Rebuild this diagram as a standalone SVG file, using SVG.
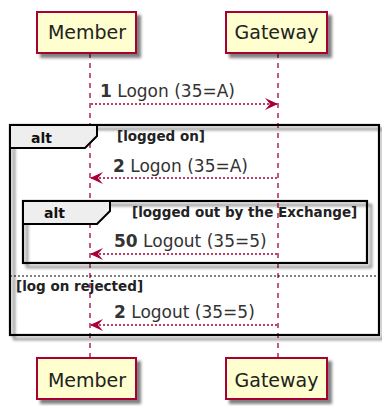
<svg xmlns="http://www.w3.org/2000/svg" width="382" height="406" viewBox="0 0 382 406">
<defs>
<filter id="sh" x="-10%" y="-10%" width="130%" height="140%">
<feGaussianBlur in="SourceAlpha" stdDeviation="1.8"/>
<feOffset dx="4" dy="4" result="b"/>
<feComponentTransfer><feFuncA type="linear" slope="0.5"/></feComponentTransfer>
<feMerge><feMergeNode/><feMergeNode in="SourceGraphic"/></feMerge>
</filter>
<marker id="ah" markerWidth="14" markerHeight="12" viewBox="0 0 14 12" refX="13" refY="6" orient="auto" markerUnits="userSpaceOnUse">
<polygon points="0,0 13,6 0,12 5,6" fill="#A80036"/>
</marker>
</defs>
<style>
.part{fill:#FEFECE;stroke:#A80036;stroke-width:2}
.pt{font-family:"DejaVu Sans",sans-serif;font-size:19px;fill:#222;text-anchor:middle}
.life{stroke:#A80036;stroke-width:1.3;stroke-dasharray:5,5;fill:none}
.msg{stroke:#A80036;stroke-width:1.3;stroke-dasharray:2,2;fill:none;marker-end:url(#ah)}
.mt{font-family:"DejaVu Sans",sans-serif;font-size:17px;fill:#333}
.frame{fill:none;stroke:#000;stroke-width:2.2}
.tab{fill:#EEEEEE;stroke:#000;stroke-width:2}
.ft{font-family:"DejaVu Sans",sans-serif;font-size:14px;font-weight:bold;fill:#111}
.ct{font-family:"DejaVu Sans",sans-serif;font-size:13.5px;font-weight:bold;fill:#222}
</style>
<g id="lifelines">
<line class="life" x1="90" y1="53" x2="90" y2="358"/>
<line class="life" x1="278" y1="53" x2="278" y2="358"/>
</g>
<g id="alt-outer">
<rect class="frame" x="10" y="125" width="369" height="210" filter="url(#sh)"/>
<polygon class="tab" points="10,125 97,125 97,136 85,148 10,148"/>
<text class="ft" x="31" y="143">alt</text>
<text class="ct" x="117" y="141">[logged on]</text>
<line x1="10" y1="276" x2="379" y2="276" stroke="#000" stroke-width="1.2" stroke-dasharray="2,2"/>
<text class="ct" x="16" y="291">[log on rejected]</text>
</g>
<g id="alt-inner">
<rect class="frame" x="23" y="201" width="344" height="62" filter="url(#sh)"/>
<polygon class="tab" points="23,201 110,201 110,211 97,224 23,224"/>
<text class="ft" x="44" y="218">alt</text>
<text class="ct" x="132" y="217">[logged out by the Exchange]</text>
</g>
<g id="connectors">
<line class="msg" x1="91" y1="104" x2="278" y2="104"/>
<text class="mt" x="100" y="97"><tspan font-weight="bold">1</tspan> Logon (35=A)</text>
<line class="msg" x1="277" y1="178" x2="90" y2="178"/>
<text class="mt" x="113" y="172"><tspan font-weight="bold">2</tspan> Logon (35=A)</text>
<line class="msg" x1="277" y1="254" x2="90" y2="254"/>
<text class="mt" x="114" y="247"><tspan font-weight="bold">50</tspan> Logout (35=5)</text>
<line class="msg" x1="277" y1="325" x2="90" y2="325"/>
<text class="mt" x="114" y="318"><tspan font-weight="bold">2</tspan> Logout (35=5)</text>
</g>
<g id="member-top">
<rect class="part" x="37" y="12" width="99" height="41" filter="url(#sh)"/>
<text class="pt" x="87" y="39">Member</text>
</g>
<g id="gateway-top">
<rect class="part" x="226" y="12" width="101" height="41" filter="url(#sh)"/>
<text class="pt" x="276.5" y="39">Gateway</text>
</g>
<g id="member-bottom">
<rect class="part" x="37" y="358" width="99" height="41" filter="url(#sh)"/>
<text class="pt" x="87" y="387">Member</text>
</g>
<g id="gateway-bottom">
<rect class="part" x="226" y="358" width="101" height="41" filter="url(#sh)"/>
<text class="pt" x="276.5" y="387">Gateway</text>
</g>
</svg>
